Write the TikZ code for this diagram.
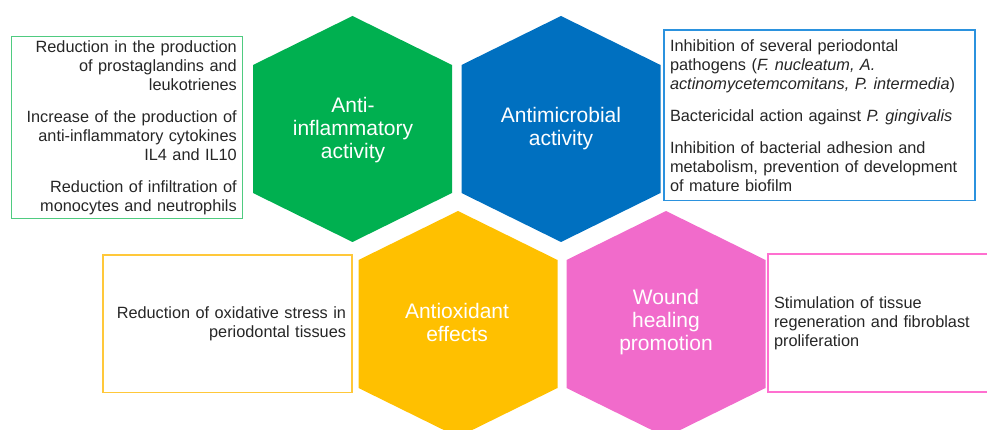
\documentclass[tikz,border=0pt]{standalone}
\usepackage{fontspec}
\setmainfont{Liberation Sans}

\definecolor{hexgreen}{HTML}{00B050}
\definecolor{hexblue}{HTML}{0070C0}
\definecolor{hexyellow}{HTML}{FFC000}
\definecolor{hexpink}{HTML}{F16BCB}
\definecolor{boxgreen}{HTML}{4FCB80}
\definecolor{boxblue}{HTML}{2B92DE}
\definecolor{boxyellow}{HTML}{FFC83A}
\definecolor{boxpink}{HTML}{FF70D0}

\begin{document}
\begin{tikzpicture}[x = 1pt, y = -1pt,
	hexlabel/.style = {text = white, align = center, font = \fontsize{21}{23}\selectfont},
	infobox/.style = {line width = 1.2pt, inner xsep = 6pt, inner ysep = 0pt,
		text = black!85, font = \fontsize{16.3}{19}\selectfont}]

\clip (0, 0) rectangle (987, 430);

	% Hexagons
	
	\fill [hexgreen] (352.5, 16) -- (452, 65) -- (452, 193) -- (352.5, 242) -- (253, 193) -- (253, 65) -- cycle;
	\fill [hexblue] (561, 16) -- (660.5, 65) -- (660.5, 193) -- (561, 242) -- (461.5, 193) -- (461.5, 65) -- cycle;
	\fill [hexyellow] (458, 211) -- (557.5, 260) -- (557.5, 388) -- (458, 437) -- (358.5, 388) -- (358.5, 260) -- cycle;
	\fill [hexpink] (666, 211) -- (765.5, 260) -- (765.5, 388) -- (666, 437) -- (566.5, 388) -- (566.5, 260) -- cycle;
	
	% Labels
	
	\node [hexlabel] (inflam) at (353, 130) {Anti-\\inflammatory\\activity};
	\node [hexlabel] (microb) at (561, 128.5) {Antimicrobial\\activity};
	\node [hexlabel] (oxid) at (457, 322.5) {Antioxidant\\effects};
	\node [hexlabel] (wound) at (666, 322) {Wound\\healing\\promotion};
	
	% Boxes
	
	\node [infobox, draw = boxgreen, text width = 219pt, minimum height = 182pt, align = right] (inflambox) at (127.3, 127.8)
		{Reduction in the production\\of prostaglandins and\\leukotrienes\\[13pt]
		Increase of the production of\\anti-inflammatory cytokines\\IL4 and IL10\\[13pt]
		Reduction of infiltration of\\monocytes and neutrophils};
	
	\node [infobox, draw = boxblue, text width = 299pt, minimum height = 170.7pt, align = left] (microbbox) at (819.5, 115.3)
		{Inhibition of several periodontal\\pathogens (\textit{F. nucleatum, A.}\\\textit{actinomycetemcomitans, P. intermedia})\\[13pt]
		Bactericidal action against \textit{P. gingivalis}\\[13pt]
		Inhibition of bacterial adhesion and\\metabolism, prevention of\ development\\of mature biofilm};
	
	\node [infobox, draw = boxyellow, text width = 237pt, minimum height = 137.7pt, align = right] (oxidbox) at (227.5, 323.8)
		{Reduction of oxidative stress in\\periodontal tissues};
	
	\node [infobox, draw = boxpink, text width = 218pt, minimum height = 138pt, align = left] (woundbox) at (883, 323)
		{Stimulation of tissue\\regeneration and fibroblast\\proliferation};

\end{tikzpicture}
\end{document}
